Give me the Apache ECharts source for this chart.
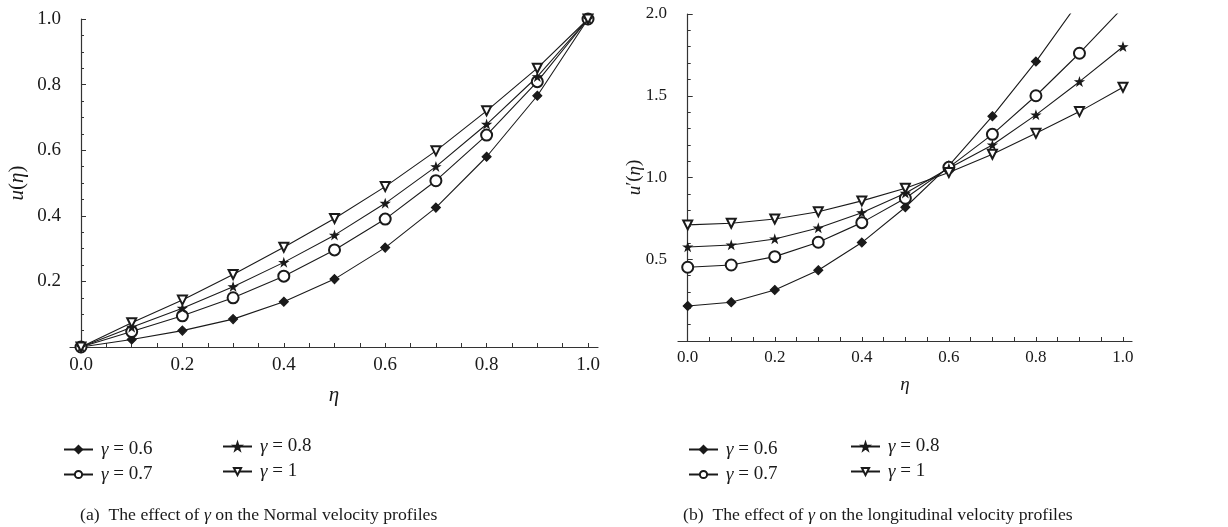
<!DOCTYPE html>
<html>
<head>
<meta charset="utf-8">
<title>Effect of gamma on velocity profiles</title>
<script src="https://cdn.jsdelivr.net/npm/echarts@6/dist/echarts.min.js"></script>
<style>
html,body{margin:0;padding:0;background:#fff}
#main{width:1228px;height:527px}
</style>
</head>
<body>
<div id="main"></div>
<script>
// eta grid (x values) and tick labels
var eta = [0, 0.1, 0.2, 0.3, 0.4, 0.5, 0.6, 0.7, 0.8, 0.9, 1.0];
var xLabelVals = [0, 0.2, 0.4, 0.6, 0.8, 1.0];
var xTickVals = [0, 0.05, 0.1, 0.15, 0.2, 0.25, 0.3, 0.35, 0.4, 0.45, 0.5, 0.55, 0.6, 0.65, 0.7, 0.75, 0.8, 0.85, 0.9, 0.95, 1.0];
var gammaNames = ['γ = 0.6', 'γ = 0.7', 'γ = 0.8', 'γ = 1'];

// (a) normal velocity u(eta)
var u06 = [0, 0.023, 0.05, 0.085, 0.138, 0.207, 0.303, 0.425, 0.58, 0.766, 1.0];
var u07 = [0, 0.047, 0.095, 0.15, 0.216, 0.296, 0.39, 0.507, 0.646, 0.809, 1.0];
var u08 = [0, 0.06, 0.118, 0.184, 0.258, 0.341, 0.438, 0.55, 0.679, 0.824, 1.0];
var u10 = [0, 0.074, 0.143, 0.221, 0.304, 0.392, 0.489, 0.598, 0.72, 0.85, 1.0];

// (b) longitudinal velocity u'(eta)
var du06 = [0.214, 0.237, 0.312, 0.433, 0.602, 0.818, 1.073, 1.375, 1.709, 2.08, 2.5];
var du07 = [0.451, 0.465, 0.516, 0.604, 0.724, 0.873, 1.062, 1.264, 1.50, 1.76, 2.04];
var du08 = [0.575, 0.587, 0.624, 0.691, 0.785, 0.904, 1.056, 1.199, 1.383, 1.586, 1.80];
var du10 = [0.71, 0.72, 0.746, 0.791, 0.857, 0.934, 1.03, 1.142, 1.27, 1.403, 1.552];

var serif = '"Liberation Serif", "DejaVu Serif", serif';
var ink = '#1a1a1a';
var starPath = 'path://M50,2 L61,37 L98,37 L68,59 L79,94 L50,72 L21,94 L32,59 L2,37 L39,37 Z';

var symbols = [
  {symbol: 'diamond', size: 9, rotate: 0},
  {symbol: 'emptyCircle', size: 11, rotate: 0},
  {symbol: starPath, size: 8, rotate: 0},
  {symbol: 'emptyTriangle', size: 9, rotate: 180}
];

function pairs(ys) {
  return eta.map(function (x, i) { return [x, ys[i]]; });
}

function makeSeries(idx, gi, ys) {
  var s = symbols[idx];
  return {
    name: gammaNames[idx],
    type: 'line',
    xAxisIndex: gi,
    yAxisIndex: gi,
    data: pairs(ys),
    symbol: s.symbol,
    symbolSize: s.size,
    symbolRotate: s.rotate,
    symbolKeepAspect: true,
    showAllSymbol: true,
    clip: true,
    lineStyle: {color: ink, width: 1.1},
    itemStyle: {color: ink, borderColor: ink, borderWidth: 1.1}
  };
}

function nameStyle(size) {
  return {
    fontFamily: serif, fontSize: size, color: ink,
    rich: {i: {fontFamily: serif, fontStyle: 'italic', fontSize: size, color: ink}}
  };
}

function xAxisOf(gi, min, max, gap, margin, fs, nfs) {
  return {
    type: 'value', gridIndex: gi, min: min, max: max,
    name: '{i|η}', nameLocation: 'middle', nameGap: gap, nameMoveOverlap: false,
    nameTextStyle: nameStyle(nfs),
    axisLine: {onZero: true, lineStyle: {color: '#333', width: 1.2}},
    axisTick: {inside: true, length: 4, customValues: xTickVals, lineStyle: {color: '#333', width: 1}},
    axisLabel: {
      customValues: xLabelVals, margin: margin,
      formatter: function (v) { return v.toFixed(1); },
      fontFamily: serif, fontSize: fs, color: ink
    },
    splitLine: {show: false}
  };
}

function yAxisOf(gi, max, interval, minorSplit, name, gap, margin, fs, nfs) {
  return {
    type: 'value', gridIndex: gi, min: 0, max: max, interval: interval,
    name: name, nameLocation: 'middle', nameGap: gap, nameMoveOverlap: false,
    nameTextStyle: nameStyle(nfs),
    axisLine: {show: true, onZero: true, lineStyle: {color: '#333', width: 1.2}},
    axisTick: {show: true, inside: true, length: 5, lineStyle: {color: '#333', width: 1}},
    minorTick: {show: true, splitNumber: minorSplit, length: 3, lineStyle: {color: '#333', width: 1}},
    axisLabel: {
      showMinLabel: false, margin: margin,
      formatter: function (v) { return v.toFixed(1); },
      fontFamily: serif, fontSize: fs, color: ink
    },
    splitLine: {show: false}
  };
}

function legendOf(names, left, top) {
  return {
    data: names, orient: 'vertical', left: left, top: top,
    padding: 0,
    itemWidth: 29, itemHeight: 9, itemGap: 6,
    textStyle: {
      fontFamily: serif, fontSize: 19, color: ink, padding: [0, 0, 0, 3],
      rich: {i: {fontFamily: serif, fontStyle: 'italic', fontSize: 19, color: ink}}
    },
    formatter: function (name) { return '{i|γ}' + name.slice(1); }
  };
}

var captionStyle = {
  fontFamily: serif, fontSize: 17.7, fontWeight: 'normal', color: ink,
  rich: {i: {fontFamily: serif, fontStyle: 'italic', fontSize: 17.7, color: ink}}
};

var chart = echarts.init(document.getElementById('main'), null, {renderer: 'canvas'});
chart.setOption({
  backgroundColor: '#fff',
  animation: false,
  color: [ink],
  title: [
    {
      text: '(a)  The effect of {i|γ} on the Normal velocity profiles',
      left: 80, top: 506, padding: 0,
      textStyle: captionStyle
    },
    {
      text: '(b)  The effect of {i|γ} on the longitudinal velocity profiles',
      left: 683, top: 506, padding: 0,
      textStyle: captionStyle
    }
  ],
  legend: [
    legendOf([gammaNames[0], gammaNames[1]], 63, 440),
    legendOf([gammaNames[2], gammaNames[3]], 222, 437),
    legendOf([gammaNames[0], gammaNames[1]], 688, 440),
    legendOf([gammaNames[2], gammaNames[3]], 850, 437)
  ],
  grid: [
    {left: 70, top: 19, width: 528, height: 328, containLabel: false},
    {left: 678, top: 14, width: 454, height: 327, containLabel: false}
  ],
  xAxis: [
    xAxisOf(0, -0.0217, 1.0197, 38, 9, 19, 21),
    xAxisOf(1, -0.0223, 1.0207, 34, 8, 17, 19)
  ],
  yAxis: [
    yAxisOf(0, 1.0, 0.2, 4, '{i|u}({i|η})', 42, 9, 19, 21),
    yAxisOf(1, 2.0, 0.5, 5, '{i|u}′({i|η})', 34, 11, 17, 19)
  ],
  series: [
    makeSeries(0, 0, u06),
    makeSeries(1, 0, u07),
    makeSeries(2, 0, u08),
    makeSeries(3, 0, u10),
    makeSeries(0, 1, du06),
    makeSeries(1, 1, du07),
    makeSeries(2, 1, du08),
    makeSeries(3, 1, du10)
  ]
});
</script>
</body>
</html>
